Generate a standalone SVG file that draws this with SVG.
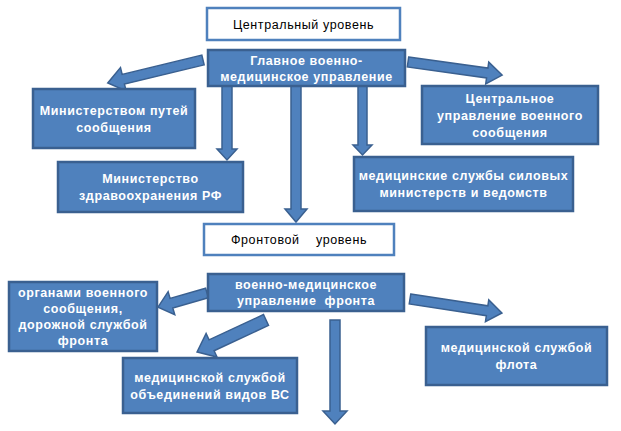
<svg xmlns="http://www.w3.org/2000/svg" width="621" height="431" viewBox="0 0 621 431">
<style>
.box{fill:#4f81bd;stroke:#3a6090;stroke-width:2.5}
.lvl{fill:#ffffff;stroke:#4f81bd;stroke-width:2.5}
.arr{fill:#4f81bd;stroke:#3a6090;stroke-width:1.5;stroke-linejoin:miter}
.t{font-family:"Liberation Sans",Arial,sans-serif;font-size:12.5px;font-weight:bold;fill:#ffffff;text-anchor:middle;letter-spacing:0.6px}
.tl{font-family:"Liberation Sans",Arial,sans-serif;font-size:12.5px;fill:#000000;text-anchor:middle;letter-spacing:0.6px}
</style>
<rect width="621" height="431" fill="#ffffff"/>
<g id="connectors">
<polygon class="arr" points="0,-5 82,-5 82,-12 98,0 82,12 82,5 0,5" transform="translate(203,60) rotate(166.4)"/>
<polygon class="arr" points="0,-5 80,-5 80,-11 95,0 80,11 80,5 0,5" transform="translate(408,62) rotate(7.9)"/>
<polygon class="arr" points="222,86 232,86 232,149 237,149 227,160 217,149 222,149"/>
<polygon class="arr" points="291,86 301,86 301,209 307,209 296,222 285,209 291,209"/>
<polygon class="arr" points="358,86 367,86 367,145 372,145 362.5,155 353,145 358,145"/>
<polygon class="arr" points="0,-5 37,-5 37,-12 51,0 37,12 37,5 0,5" transform="translate(207,293) rotate(164)"/>
<polygon class="arr" points="0,-6 60,-6 60,-13 76,0 60,13 60,6 0,6" transform="translate(266,320) rotate(155.1)"/>
<polygon class="arr" points="0,-5 78,-5 78,-11 93,0 78,11 78,5 0,5" transform="translate(410,299) rotate(8.65)"/>
<polygon class="arr" points="330,320 340,320 340,411 347,411 335,424 323,411 330,411"/>
</g>
<g id="central-level">
<rect class="lvl" x="207" y="8" width="193" height="32"/>
<text class="tl" x="303.5" y="28.5">Центральный уровень</text>
</g>
<g id="main-directorate">
<rect class="box" x="208" y="50" width="197" height="36"/>
<text class="t" x="306.5" y="65">Главное военно-</text>
<text class="t" x="306.5" y="81">медицинское управление</text>
</g>
<g id="ministry-railways">
<rect class="box" x="33" y="89" width="162" height="59"/>
<text class="t" x="114" y="115">Министерством путей</text>
<text class="t" x="114" y="132">сообщения</text>
</g>
<g id="central-military-communications">
<rect class="box" x="422" y="86" width="176" height="58"/>
<text class="t" x="510" y="103">Центральное</text>
<text class="t" x="510" y="120">управление военного</text>
<text class="t" x="510" y="137">сообщения</text>
</g>
<g id="ministry-health">
<rect class="box" x="58" y="162" width="185" height="50"/>
<text class="t" x="150.5" y="183">Министерство</text>
<text class="t" x="150.5" y="200">здравоохранения РФ</text>
</g>
<g id="power-ministries">
<rect class="box" x="354" y="157" width="219" height="54"/>
<text class="t" x="463.5" y="180">медицинские службы силовых</text>
<text class="t" x="463.5" y="197">министерств и ведомств</text>
</g>
<g id="front-level">
<rect class="lvl" x="204" y="224" width="190" height="31"/>
<text class="tl" x="299" y="244" xml:space="preserve">Фронтовой    уровень</text>
</g>
<g id="front-directorate">
<rect class="box" x="208" y="274" width="196" height="37"/>
<text class="t" x="306" y="289">военно-медицинское</text>
<text class="t" x="306" y="305" xml:space="preserve">управление  фронта</text>
</g>
<g id="military-communications-organs">
<rect class="box" x="9" y="282" width="148" height="69"/>
<text class="t" x="83" y="297">органами военного</text>
<text class="t" x="83" y="313">сообщения,</text>
<text class="t" x="83" y="329">дорожной службой</text>
<text class="t" x="83" y="345">фронта</text>
</g>
<g id="service-branches">
<rect class="box" x="123" y="358" width="174" height="55"/>
<text class="t" x="210" y="382">медицинской службой</text>
<text class="t" x="210" y="399">объединений видов ВС</text>
</g>
<g id="fleet">
<rect class="box" x="426" y="327" width="181" height="58"/>
<text class="t" x="516.5" y="352">медицинской службой</text>
<text class="t" x="516.5" y="369">флота</text>
</g>
</svg>
